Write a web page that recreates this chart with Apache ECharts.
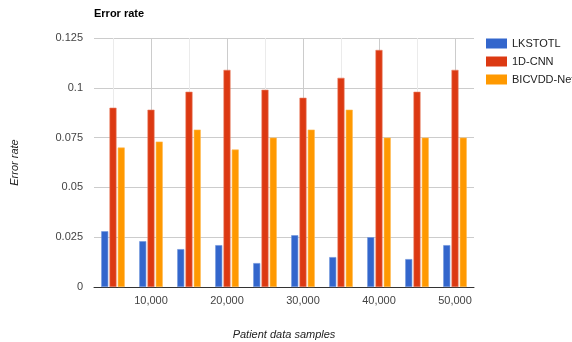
<!DOCTYPE html>
<html>
<head>
<meta charset="utf-8">
<script src="https://cdn.jsdelivr.net/npm/echarts@6/dist/echarts.min.js"></script>
<style>
  html, body { margin: 0; padding: 0; background: #fff; }
  #chart { width: 572px; height: 342px; }
</style>
</head>
<body>
<div id="chart"></div>
<script>
// Patient sample counts (x positions of each bar group)
const samples = [5000, 10000, 15000, 20000, 25000, 30000, 35000, 40000, 45000, 50000];
// Labelled ticks on the x axis
const xLabelTicks = [10000, 20000, 30000, 40000, 50000];
// Error rate per method
const lkstotl = [0.028, 0.023, 0.019, 0.021, 0.012, 0.026, 0.015, 0.025, 0.014, 0.021];
const cnn1d = [0.090, 0.089, 0.098, 0.109, 0.099, 0.095, 0.105, 0.119, 0.098, 0.109];
const bicvdd = [0.070, 0.073, 0.079, 0.069, 0.075, 0.079, 0.089, 0.075, 0.075, 0.075];

const seriesNames = ['LKSTOTL', '1D-CNN', 'BICVDD-Net'];
const seriesValues = [lkstotl, cnn1d, bicvdd];
const colors = ['#3366cc', '#dc3912', '#ff9900'];
const borders = ['#6f93dc', '#e87a5e', '#ffb84d'];

const font = 'Arial, "Liberation Sans", sans-serif';

const chart = echarts.init(document.getElementById('chart'), null, { renderer: 'canvas' });

chart.setOption({
  animation: false,
  color: colors,
  title: {
    text: 'Error rate',
    left: 89,
    top: 3,
    textStyle: { fontFamily: font, fontSize: 11, fontWeight: 'bold', color: '#000' }
  },
  legend: {
    orient: 'vertical',
    left: 481,
    top: 33,
    itemWidth: 21,
    itemHeight: 10,
    itemGap: 7,
    icon: 'rect',
    itemStyle: { borderWidth: 0 },
    textStyle: { fontFamily: font, fontSize: 11, color: '#222' },
    data: seriesNames
  },
  grid: { left: 94, right: 98, top: 38, bottom: 55, containLabel: false, outerBoundsMode: 'none' },
  xAxis: {
    type: 'value',
    min: 2500,
    max: 52500,
    name: 'Patient data samples',
    nameLocation: 'middle',
    nameGap: 42,
    nameTextStyle: { fontFamily: font, fontSize: 11, fontStyle: 'italic', color: '#222' },
    axisLine: { show: true, lineStyle: { color: '#333', width: 1 } },
    axisTick: { show: false, customValues: samples },
    axisLabel: {
      customValues: xLabelTicks,
      fontFamily: font, fontSize: 11, color: '#444', margin: 8,
      formatter: v => v.toLocaleString('en-US')
    },
    splitLine: {
      show: true,
      lineStyle: { color: ['#ebebeb', '#cccccc'], width: 1 }
    }
  },
  yAxis: {
    type: 'value',
    min: 0,
    max: 0.125,
    interval: 0.025,
    name: 'Error rate',
    nameLocation: 'middle',
    nameGap: 74,
    nameTextStyle: { fontFamily: font, fontSize: 11, fontStyle: 'italic', color: '#222' },
    axisLine: { show: false },
    axisTick: { show: false },
    axisLabel: {
      fontFamily: font, fontSize: 11, color: '#444', margin: 11,
      formatter: v => String(Math.round(v * 1000) / 1000)
    },
    splitLine: { lineStyle: { color: '#cccccc', width: 1 } }
  },
  series: seriesNames.map((name, i) => ({
    name,
    type: 'bar',
    barWidth: 7,
    barGap: '18%',
    itemStyle: { color: colors[i], borderColor: borders[i], borderWidth: 0.6 },
    data: samples.map((x, j) => [x, seriesValues[i][j]])
  }))
});
</script>
</body>
</html>
